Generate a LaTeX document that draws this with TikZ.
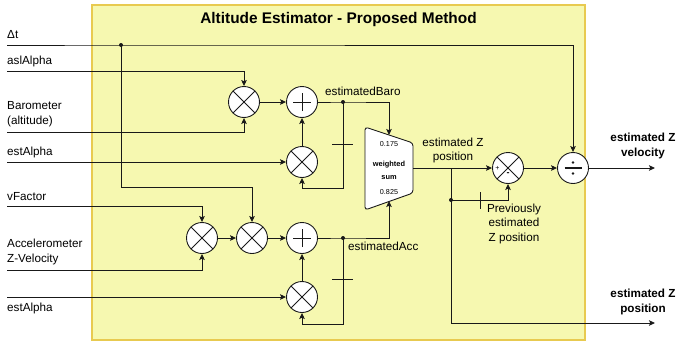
\documentclass[tikz,border=0pt]{standalone}
\usepackage{fontspec}
\setmainfont{Liberation Sans}
\usetikzlibrary{arrows.meta}
\definecolor{boxfill}{RGB}{246,248,176}
\definecolor{boxline}{RGB}{232,202,80}
\definecolor{wirec}{RGB}{25,25,25}
\begin{document}
\begin{tikzpicture}[x=1pt,y=-1pt,
  wire/.style={draw=wirec, line width=0.9pt},
  arr/.style={wire, -{Stealth[length=6pt,width=5.5pt,inset=1.2pt]}},
  op/.style={circle, draw=wirec, line width=0.9pt, fill=white, minimum size=31pt, inner sep=0pt},
  mult/.style={op, path picture={\draw[wirec, line width=0.9pt]
      (path picture bounding box.north west) -- (path picture bounding box.south east)
      (path picture bounding box.north east) -- (path picture bounding box.south west);}},
  adder/.style={op, path picture={\draw[wirec, line width=0.9pt]
      ([xshift=-9pt]path picture bounding box.center) -- ([xshift=9pt]path picture bounding box.center)
      ([yshift=-9pt]path picture bounding box.center) -- ([yshift=9pt]path picture bounding box.center);}},
  divider/.style={op, path picture={\draw[wirec, line width=1.1pt]
      ([xshift=-8.5pt]path picture bounding box.center) -- ([xshift=8.5pt]path picture bounding box.center);
      \fill[wirec] ([yshift=5.5pt]path picture bounding box.center) circle[radius=1.3pt]
                   ([yshift=-5.5pt]path picture bounding box.center) circle[radius=1.3pt];}},
  sign/.style={inner sep=0.5pt, minimum size=0pt, fill=white},
  lbl/.style={font=\fontsize{11.7}{14}\selectfont, inner sep=0pt, text height=8.5pt, text depth=2.4pt},
  mlbl/.style={font=\fontsize{11.7}{14.5}\selectfont, inner sep=0pt},
  blbl/.style={font=\bfseries\fontsize{11.7}{14.5}\selectfont, inner sep=0pt, align=center},
  tiny/.style={font=\fontsize{7.2}{8}\selectfont, inner sep=0pt},
  tick/.style={wire},
  dot/.style={fill=wirec}
]
\useasboundingbox (0,0) rectangle (678,343);
% background box
\draw[fill=boxfill, draw=boxline, line width=1.3pt] (92,5) rectangle (585,340);
\node[font=\bfseries\fontsize{15.4}{18}\selectfont, inner sep=0pt] (title) at (338.5,20) {Altitude Estimator - Proposed Method};

% operators
\node[mult]    (m1)  at (244,102) {};
\node[adder]   (a1)  at (302,102) {};
\node[mult]    (m2)  at (302,162) {};
\node[mult]    (m4)  at (202,238) {};
\node[mult]    (m5)  at (252,238) {};
\node[adder]   (a2)  at (302,238) {};
\node[mult]    (m3)  at (302,297) {};
\node[mult]    (sub) at (508,168) {};
\node[sign, font=\fontsize{7}{8}\selectfont] (subP) at ([xshift=-10.5pt]sub.center) {+};
\node[sign, font=\bfseries\fontsize{9}{9}\selectfont] (subM) at ([yshift=-6pt]sub.center) {-};
\node[divider] (div) at (573,168) {};

% weighted sum block
\draw[wire, fill=white, rounded corners=3pt] (365,127) -- (413,143) -- (413,193) -- (365,210) -- cycle;
\coordinate (wsT) at (389,135);
\coordinate (wsB) at (389,201);
\coordinate (wsO) at (413,168);
\node[tiny] (w1) at (389,144) {0.175};
\node[tiny, font=\bfseries\fontsize{7.4}{13}\selectfont, align=center] (w2) at (389,170.5) {weighted\\sum};
\node[tiny] (w3) at (389,192) {0.825};

% input start coordinates
\coordinate (iDt) at (7,45);
\coordinate (iAsl) at (7,71);
\coordinate (iBar) at (7,132);
\coordinate (iEa1) at (7,162);
\coordinate (iVf) at (7,206);
\coordinate (iAcc) at (7,270);
\coordinate (iEa2) at (7,297);
\coordinate (oVel) at (655,168);
\coordinate (oPos) at (655,323);

% junctions
\coordinate (J0) at (121,45);
\coordinate (Jb) at (343,102);
\coordinate (Ja) at (343,238);
\coordinate (Jz) at (451,200);
\coordinate (Tz) at (451,168);

% input labels
\node[lbl, anchor=west] (lDt) at (7,35) {Δt};
\node[lbl, anchor=west] (lAsl) at (7,61) {aslAlpha};
\node[mlbl, anchor=west, align=left] (lBar) at (7,114) {Barometer\\(altitude)};
\node[lbl, anchor=west] (lEa1) at (7,152) {estAlpha};
\node[lbl, anchor=west] (lVf) at (7,197) {vFactor};
\node[mlbl, anchor=west, align=left] (lAcc) at (7,252) {Accelerometer\\Z-Velocity};
\node[lbl, anchor=west] (lEa2) at (7,308) {estAlpha};

% internal labels
\node[lbl, anchor=west] (lBaro) at (325,92) {estimatedBaro};
\node[lbl, anchor=west] (lAccE) at (348,247) {estimatedAcc};
\node[mlbl, align=center] (lZ) at (453,150.5) {estimated Z\\position};
\node[mlbl, align=center] (lPrev) at (514,223.5) {Previously\\estimated\\Z position};
\node[blbl] (lVel) at (643,146) {estimated Z\\velocity};
\node[blbl] (lPos) at (643,302) {estimated Z\\position};

% wires
\draw[arr] (iDt) -- (J0) -- (573,45) -- (div.north);
\draw[arr] (J0) -- (121,187) -| (m5.north);
\draw[arr] (iAsl) -| (m1.north);
\draw[arr] (iBar) -| (m1.south);
\draw[arr] (m1.east) -- (a1.west);
\draw[arr] (iEa1) -- (m2.west);
\draw[arr] (m2.north) -- (a1.south);
\draw[arr] (a1.east) -- (Jb) -- (389,102) -- (wsT);
\draw[arr] (Jb) -- (343,188) -| (m2.south);
\draw[tick] (332,144) -- (353,144);

\draw[arr] (iVf) -| (m4.north);
\draw[arr] (iAcc) -| (m4.south);
\draw[arr] (m4.east) -- (m5.west);
\draw[arr] (m5.east) -- (a2.west);
\draw[arr] (iEa2) -- (m3.west);
\draw[arr] (m3.north) -- (a2.south);
\draw[arr] (a2.east) -- (Ja) -- (389,238) -- (wsB);
\draw[arr] (Ja) -- (343,324) -| (m3.south);
\draw[tick] (332,279) -- (353,279);

\draw[arr] (wsO) -- (sub.west);
\draw[arr] (Tz) -- (451,323) -- (oPos);
\draw[arr] (Jz) -| (sub.south);
\draw[tick] (480,192) -- (480,209);
\draw[arr] (sub.east) -- (div.west);
\draw[arr] (div.east) -- (oVel);

% junction dots
\fill[dot] (J0) circle[radius=2pt];
\fill[dot] (Jb) circle[radius=2pt];
\fill[dot] (Ja) circle[radius=2pt];
\fill[dot] (Jz) circle[radius=2pt];
\end{tikzpicture}
\end{document}
